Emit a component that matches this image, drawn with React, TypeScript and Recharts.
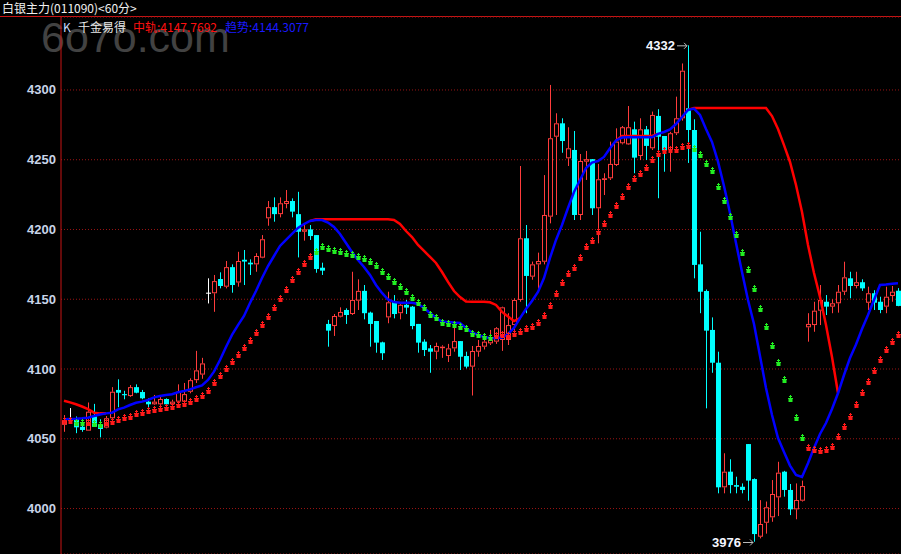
import { ComposedChart, Bar, Line, XAxis, YAxis, CartesianGrid, ReferenceDot } from 'recharts';

// 60-minute bars, left to right (index only, no time labels on the chart)
const opens = [
  4060, 4064.5, 4064, 4058.6, 4055.8, 4066, 4060, 4058, 4064.7, 4085,
  4082, 4080.6, 4087, 4083.5, 4076.6, 4074.7, 4074.7, 4078.5, 4074.7, 4076.6,
  4076.6, 4083.7, 4092, 4096, 4154.7, 4154.3, 4164.5, 4159, 4173, 4162,
  4178.3, 4176.2, 4175, 4179.8, 4208, 4216, 4211, 4218.3, 4220.4, 4211,
  4198.4, 4200.1, 4196, 4172.6, 4132.3, 4130.8, 4137.5, 4142.3, 4139.4, 4149,
  4156, 4140.4, 4134.4, 4119.1, 4137, 4148.2, 4140, 4146, 4144.7, 4132.3,
  4119.6, 4114.8, 4112.4, 4115, 4109.3, 4114.8, 4120, 4109.3, 4101.7, 4112.4,
  4116, 4118.4, 4119.6, 4120.8, 4120.8, 4131.5, 4149.5, 4193.7, 4166.2, 4175,
  4176.9, 4209.2, 4266.5, 4276.1, 4251, 4257, 4210.4, 4248.6, 4250.4, 4215.2,
  4235.5, 4236.7, 4246.2, 4261.8, 4261, 4271.8, 4252.7, 4271.8, 4258.2, 4281.4,
  4267, 4257, 4269, 4279.7, 4286.9, 4271.3, 4175, 4155.9, 4128, 4104.5,
  4015.2, 4026.4, 4016.8, 4015.6, 4046.2, 4021.1, 3979.8, 3989.8, 3993.7, 4008,
  4026.4, 4013.3, 3999.4, 4005.6, 4129.9, 4131.5, 4141.8, 4148.2, 4144.7, 4147.1,
  4155.4, 4165, 4159.5, 4162.2, 4147.5, 4154.3, 4148.2, 4144.7, 4152.3, 4156.1,
];

const highs = [
  4067, 4072, 4066, 4062, 4076, 4075, 4064, 4066.3, 4087, 4092.6,
  4084.4, 4088.5, 4089, 4085, 4079, 4081.4, 4081, 4079, 4078, 4089,
  4090, 4093.3, 4113, 4108, 4165, 4167.4, 4169.3, 4177.4, 4175, 4184,
  4185.3, 4178.6, 4183, 4196, 4220.4, 4223, 4223, 4228.3, 4222.3, 4227,
  4203.2, 4203.2, 4196, 4176.2, 4135.2, 4139.4, 4144.2, 4143.5, 4169.7, 4164.3,
  4160.2, 4141.1, 4134.4, 4119.6, 4155.4, 4153, 4146.6, 4149.5, 4145.2, 4132.3,
  4121.3, 4117.2, 4118.9, 4117, 4118, 4130.3, 4120, 4112.4, 4116.5, 4120.8,
  4122.6, 4128, 4130, 4144.7, 4140, 4150.7, 4245.5, 4203.2, 4177, 4183.4,
  4239, 4303.6, 4283.3, 4279.7, 4273.3, 4270.6, 4254.1, 4256.3, 4250.5, 4247,
  4240.3, 4263, 4272.5, 4274.2, 4288.5, 4277.3, 4279.7, 4274.2, 4284.5, 4286.2,
  4267, 4270, 4295.2, 4319, 4332, 4279, 4198.4, 4157, 4137, 4112.4,
  4039.6, 4035.3, 4022.8, 4018, 4046.2, 4021.6, 4006, 4005, 4020.4, 4033.5,
  4027, 4017.6, 4018, 4020, 4140, 4148.2, 4160.2, 4153, 4150, 4160.2,
  4176.9, 4169.7, 4169.7, 4164.3, 4159, 4156.5, 4151.8, 4159, 4159.5, 4158,
];

const lows = [
  4055, 4064, 4054, 4055, 4055.8, 4058.6, 4051, 4057.5, 4064, 4072.6,
  4078.3, 4080, 4082.6, 4078.3, 4071, 4074.2, 4074, 4074, 4073, 4075.4,
  4075.4, 4082.6, 4090, 4093, 4147, 4141, 4157.8, 4157.8, 4154.7, 4159,
  4160.2, 4167.4, 4169.7, 4179.4, 4202.7, 4205.6, 4208.7, 4215.2, 4208.7, 4180,
  4192, 4192.5, 4169, 4167.4, 4116, 4123.7, 4137, 4132.3, 4138.7, 4142.3,
  4135.6, 4116, 4111.7, 4106.5, 4132.8, 4136.3, 4135.6, 4139.4, 4128.5, 4111.7,
  4109.3, 4097.3, 4107, 4108, 4105, 4112.4, 4099.3, 4100.4, 4081, 4108.8,
  4114, 4117.2, 4118, 4113, 4117.2, 4128, 4148.2, 4140, 4164, 4155.4,
  4175, 4204.4, 4210.4, 4255, 4245.5, 4206.8, 4206.8, 4235.5, 4210.4, 4190.1,
  4224.7, 4235.5, 4245.5, 4261, 4260.6, 4240.3, 4249.8, 4249.8, 4257, 4222.4,
  4241.4, 4241.4, 4267.7, 4278, 4247.7, 4165, 4140, 4071.8, 4097.3, 4010.9,
  4010.9, 4010.9, 4010.9, 4010.9, 4005.6, 3976.2, 3978.6, 3982, 3990.5, 3994.6,
  4008.5, 3995.3, 3992.3, 4005, 4119.6, 4126.7, 4131.5, 4138.7, 4140, 4140.4,
  4153, 4150.7, 4157.8, 4156, 4142.3, 4142.3, 4140, 4140, 4148.2, 4145,
];

const closes = [
  4063, 4064.5, 4058.2, 4056.3, 4069.4, 4058.6, 4057, 4064.7, 4083.7, 4083,
  4081.2, 4087, 4083, 4079, 4074.7, 4076.6, 4078.5, 4074.7, 4076.6, 4083.7,
  4082, 4092, 4099, 4104, 4154.7, 4163, 4159.5, 4173, 4160.2, 4177.4,
  4177, 4175, 4181, 4193, 4216, 4211, 4218.8, 4220.4, 4212.8, 4198.4,
  4200.1, 4195.3, 4171.7, 4170.5, 4127.5, 4138, 4140.9, 4138.7, 4149.5, 4156,
  4140, 4132.3, 4118.9, 4111.3, 4147.8, 4139.4, 4146, 4144, 4130.8, 4118.9,
  4113.6, 4112.4, 4116.5, 4116, 4114.8, 4120, 4108.8, 4101.7, 4112.9, 4116.5,
  4119.6, 4120.8, 4129.2, 4144.2, 4131.5, 4149.5, 4193.7, 4166.7, 4175, 4177.4,
  4210.4, 4265.4, 4276.1, 4263.4, 4258.2, 4210.4, 4249.1, 4250.4, 4215.2, 4236,
  4236.7, 4247, 4263, 4273.3, 4273.3, 4251.5, 4271.8, 4259.9, 4282.1, 4266.5,
  4257, 4269, 4279.7, 4313.8, 4271.3, 4174.6, 4155.4, 4127.5, 4104.5, 4015.2,
  4026.4, 4016.8, 4015.6, 4013.3, 4020, 3981.7, 3988.9, 4000.9, 4010.4, 4025.7,
  4013.3, 3999.4, 4006.1, 4016.1, 4132.3, 4141.8, 4149.5, 4144.7, 4147.1, 4155.4,
  4165.7, 4159.5, 4162.2, 4157.8, 4154.3, 4147.5, 4142.3, 4151.8, 4155.4, 4145.2,
];

// 趋势 (blue)
const trend = [
  4063.9, 4064.2, 4064.4, 4064.7, 4065.1, 4066.3, 4067.4, 4068.2, 4068.7, 4071.1,
  4072.3, 4074.2, 4075.8, 4076.6, 4077.8, 4079.7, 4080.6, 4081.4, 4081.9, 4083.3,
  4084.2, 4085.4, 4086.9, 4088.3, 4092.1, 4098.1, 4106.4, 4115.8, 4124.4, 4131.5,
  4138, 4147.3, 4155.9, 4165.2, 4173.8, 4181, 4188.2, 4192.5, 4196.8, 4201.1,
  4203.9, 4206.1, 4206.8, 4206.8, 4205, 4201.8, 4196.8, 4190.3, 4183.9, 4178.1,
  4173.1, 4167.4, 4160.2, 4154.5, 4149.8, 4148, 4147.5, 4147.5, 4147.5, 4146.6,
  4143.7, 4140.1, 4136.5, 4134, 4133.7, 4133.3, 4133, 4129.4, 4126.2, 4124.4,
  4122.9, 4122.2, 4122, 4122.6, 4125.1, 4129.4, 4136.5, 4143, 4148.7, 4155.2,
  4165.2, 4179.6, 4192.5, 4203.2, 4215.4, 4226.9, 4235.5, 4244.1, 4248, 4249.1,
  4252, 4258.2, 4263.8, 4265.9, 4266.1, 4266.1, 4266.1, 4266.1, 4266.1, 4268.5,
  4269.9, 4271.7, 4275.6, 4280.6, 4285.7, 4286.7, 4282.1, 4272, 4262.7, 4248.6,
  4231.2, 4211.8, 4190.3, 4169.5, 4149.5, 4132.3, 4109.3, 4086.4, 4067, 4050.5,
  4040.5, 4030.8, 4024, 4022.6, 4032.4, 4043.4, 4053.4, 4061.3, 4071.3, 4082.6,
  4095.7, 4107.9, 4117.6, 4128.7, 4138.7, 4149.5, 4160.2, 4160.6, 4161.1, 4161.4,
];

// 中轨 (red), only where it separates from the trend line
const midLine = [
  4077.3, 4076.1, 4074.7, 4073.1, 4071.3, 4068.7, 4068.2, 4068.2, null, null,
  null, null, null, null, null, null, null, null, null, null,
  null, null, null, null, null, null, null, null, null, null,
  null, null, null, null, null, null, null, null, null, null,
  null, 4206.1, 4207.3, 4207.3, 4207.3, 4207.3, 4207.3, 4207.3, 4207.3, 4207.3,
  4207.3, 4207.3, 4207.3, 4207.3, 4207.3, 4206.8, 4203.9, 4198.9, 4194.6, 4188.9,
  4184.6, 4180.3, 4176, 4169.5, 4162.4, 4155.9, 4151.6, 4148.4, 4148.2, 4148.2,
  4148.2, 4147.8, 4145.9, 4140.9, 4137.6, 4134.4, 4136.5, null, null, null,
  null, null, null, null, null, null, null, null, null, null,
  null, null, 4263.8, 4267, 4267, 4267, 4267, 4267, 4267, 4268.5,
  null, null, null, null, 4285.7, 4287.1, 4287.1, 4287.1, 4287.1, 4287.1,
  4287.1, 4287.1, 4287.1, 4287.1, 4287.1, 4287.1, 4287.1, 4287.1, 4281.3, 4272,
  4260.5, 4248.4, 4231.9, 4212.5, 4188.9, 4168.8, 4151.6, 4131.5, 4108.6, 4082.8,
  null, null, null, null, null, null, null, null, null, null,
];

// stop markers: value and side (u = red below price, d = green above price)
const sar = [
  4062.9, 4062.9, 4061.1, 4061.1, 4061.1, 4060.6, 4059.9, 4061.5, 4062.2, 4063.4,
  4064.7, 4065.8, 4067.5, 4068.7, 4070.1, 4070.6, 4071.3, 4072.3, 4073, 4074.2,
  4074.9, 4076.1, 4078.3, 4080.6, 4084.4, 4089.7, 4095, 4100, 4105, 4110,
  4115, 4120.1, 4125.8, 4131.5, 4137.3, 4143.5, 4150, 4156.6, 4163.8, 4169.7,
  4175.5, 4180.5, 4183.7, 4187.4, 4186, 4184.8, 4183.9, 4182.4, 4181.7, 4180.5,
  4178.8, 4176.9, 4173.8, 4169.7, 4166.2, 4162.6, 4159, 4155.4, 4151.1, 4147.5,
  4143.5, 4138.7, 4136.3, 4132.8, 4132.3, 4131.5, 4130.3, 4128.5, 4124.9, 4124.4,
  4123.1, 4122, 4123.6, 4124.4, 4123.6, 4124.9, 4126.7, 4128.5, 4130.3, 4133.2,
  4138, 4145.2, 4153.5, 4161.4, 4168.1, 4172.6, 4179.8, 4187.3, 4192, 4198.4,
  4203.9, 4210.4, 4216.8, 4223.5, 4230.7, 4236, 4239.8, 4244.3, 4249.8, 4254.1,
  4256.5, 4257, 4257, 4259.3, 4259.8, 4257.7, 4253.4, 4246.9, 4242.1, 4230.7,
  4220.4, 4209.2, 4196, 4183.4, 4171, 4157.3, 4143, 4130.3, 4116.7, 4104.5,
  4092.1, 4078.5, 4065.1, 4050.7, 4043.2, 4041.9, 4041.4, 4041.9, 4044.3, 4051.5,
  4058.6, 4065.8, 4074.2, 4082.8, 4090.7, 4098.6, 4106.4, 4113.6, 4119.4, 4124.4,
];
const sarSide =
  'uuddudd' + 'u'.repeat(35) + 'd'.repeat(30) + 'u'.repeat(33) + 'd'.repeat(19) + 'u'.repeat(16);

const yTicks = [4000, 4050, 4100, 4150, 4200, 4250, 4300];
const peak = { idx: 104, value: 4332, label: '4332' };
const trough = { idx: 115, value: 3976, label: '3976' };

const rows = opens.map((o, i) => ({
  i,
  o,
  h: highs[i],
  l: lows[i],
  c: closes[i],
  range: [lows[i], highs[i]],
  trend: trend[i],
  mid: midLine[i],
  sar: sar[i],
  side: sarSide[i],
}));

const UP = '#ff3c3c';
const DOWN = '#00ffff';

function Candle(props: any) {
  const { x, y, width, height, payload } = props;
  if (!payload || height == null) return <g />;
  const { o, h, l, c } = payload;
  const py = (v: number) => y + ((h - v) / (h - l)) * height;
  const cx = Math.floor(x + width / 2);
  const top = py(Math.max(o, c));
  const bot = py(Math.min(o, c));
  if (c > o) {
    return (
      <g>
        <rect x={cx} y={py(h)} width={1} height={Math.max(top - py(h), 0)} fill={UP} />
        <rect x={cx} y={bot} width={1} height={Math.max(py(l) - bot, 0)} fill={UP} />
        <rect x={cx - 1.5} y={top + 0.5} width={4} height={Math.max(bot - top - 1, 0.5)} fill="#000" stroke={UP} strokeWidth={1} />
      </g>
    );
  }
  if (c < o) {
    return (
      <g>
        <rect x={cx} y={py(h)} width={1} height={py(l) - py(h)} fill={DOWN} />
        <rect x={cx - 2} y={top} width={5} height={Math.max(bot - top, 1)} fill={DOWN} />
      </g>
    );
  }
  return (
    <g>
      <rect x={cx} y={py(h)} width={1} height={py(l) - py(h)} fill="#ffffff" />
      <rect x={cx - 2} y={top} width={5} height={1} fill="#ffffff" />
    </g>
  );
}

function SarDot(props: any) {
  const { cx, cy, payload } = props;
  if (cy == null || !payload || payload.sar == null) return <g key={props.index} />;
  const col = payload.side === 'd' ? '#22ee22' : '#ff1a1a';
  const x = Math.floor(cx);
  const y = Math.round(cy);
  return (
    <g key={props.index} fill={col}>
      <rect x={x} y={y - 4} width={1} height={4} />
      <rect x={x - 1} y={y - 3} width={3} height={1} />
      <rect x={x - 2} y={y - 1} width={5} height={1} />
      <rect x={x - 1.5} y={y} width={4} height={3} />
    </g>
  );
}

function YTick(props: any) {
  const { y, payload } = props;
  return (
    <text x={56} y={y} dy={4.5} textAnchor="end" fill="#c8d4e8"
          style={{ fontFamily: 'Liberation Sans, Arial, sans-serif', fontSize: 13, fontWeight: 'bold' }}>
      {payload.value}
    </text>
  );
}

function ExtremeTag(props: any) {
  const { cx, cy, text } = props;
  if (cx == null || cy == null) return <g />;
  const x = Math.floor(cx);
  return (
    <g>
      <line x1={x - 11} y1={cy + 0.5} x2={x - 1} y2={cy + 0.5} stroke="#b8b8b8" strokeWidth={1} />
      <path d={`M${x - 4},${cy - 2.5} L${x - 1},${cy + 0.5} L${x - 4},${cy + 3.5}`} fill="none" stroke="#b8b8b8" strokeWidth={1} />
      <text x={x - 13} y={cy} dy={4.5} textAnchor="end" fill="#f4f6ff"
            style={{ fontFamily: 'Liberation Sans, Arial, sans-serif', fontSize: 13, fontWeight: 'bold' }}>
        {text}
      </text>
    </g>
  );
}

export default function App() {
  return (
    <div style={{ position: 'relative', width: 901, height: 554, background: '#000', overflow: 'hidden' }}>
      <style>{'body{margin:0;background:#000;}'}</style>

      {/* title rows + watermark */}
      <svg width={901} height={554} style={{ position: 'absolute', left: 0, top: 0 }}>
        <text x={41} y={52} fill="#424242"
              style={{ fontFamily: 'Liberation Sans, Arial, sans-serif', fontSize: 43 }}>
          6o7o.com
        </text>
        <text x={2} y={12.5} fill="#f0f0f0" style={{ fontFamily: '"Noto Sans CJK SC", sans-serif', fontSize: 12 }}>
          白银主力(011090)&lt;60分&gt;
        </text>
        <rect x={0} y={16} width={901} height={1} fill="#c81414" />
        <g style={{ fontFamily: '"Noto Sans CJK SC", sans-serif', fontSize: 12 }}>
          <text x={63} y={32} fill="#c8dcff">K</text>
          <text x={78} y={32} fill="#e8e8e8">千金易得</text>
          <text x={133} y={32} fill="#ff1010">中轨:4147.7692</text>
          <text x={225} y={32} fill="#1a1aff">趋势:4144.3077</text>
        </g>
      </svg>

      <div style={{ position: 'absolute', left: 0, top: 0 }}>
        <ComposedChart width={901} height={554} data={rows}
                       margin={{ top: 17, right: 0, bottom: 0, left: 0 }}>
          <CartesianGrid horizontal vertical={false} stroke="#9a1414" strokeDasharray="1 2" />
          <XAxis dataKey="i" hide />
          <YAxis type="number" domain={[3967.4, 4352.3]} ticks={yTicks} width={61}
                 allowDataOverflow axisLine={{ stroke: '#c81414' }} tickLine={false}
                 tick={<YTick />} interval={0} />

          <Bar dataKey="range" barSize={5} isAnimationActive={false}
               shape={(p: any) => <Candle {...p} />} />

          <Line dataKey="mid" type="linear" stroke="#ff0000" strokeWidth={2.5}
                dot={false} activeDot={false} isAnimationActive={false} />
          <Line dataKey="trend" type="linear" stroke="#0000ff" strokeWidth={2.5}
                dot={false} activeDot={false} isAnimationActive={false} />
          <Line dataKey="sar" stroke="none" activeDot={false} isAnimationActive={false}
                dot={(p: any) => <SarDot key={p.index} {...p} />} />

          <ReferenceDot x={peak.idx} y={peak.value} r={0}
                        shape={(p: any) => <ExtremeTag {...p} text={peak.label} />} />
          <ReferenceDot x={trough.idx} y={trough.value} r={0}
                        shape={(p: any) => <ExtremeTag {...p} text={trough.label} />} />
        </ComposedChart>
      </div>
    </div>
  );
}
